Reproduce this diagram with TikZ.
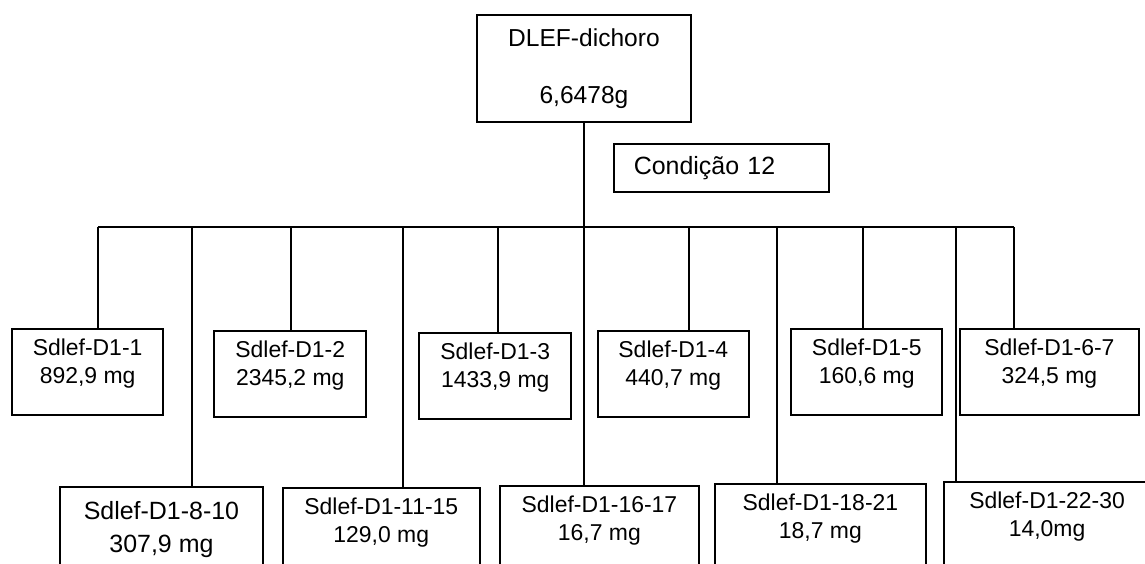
\documentclass[tikz,border=0pt]{standalone}
\usepackage{fontspec}
\setmainfont{Liberation Sans}
\usetikzlibrary{positioning}

\begin{document}
\begin{tikzpicture}[
    line width=0.9pt,
    root/.style={rectangle, draw, minimum width=3.74cm, minimum height=1.87cm, align=center, font=\fontsize{12.2}{14.6}\selectfont},
    cond/.style={rectangle, draw, minimum width=3.76cm, minimum height=0.84cm, inner xsep=0.35cm, text width=3.06cm, align=left, font=\fontsize{12.4}{14.8}\selectfont},
    leaf/.style={rectangle, draw, anchor=north, align=center, inner ysep=5pt, font=\fontsize{11.4}{13.9}\selectfont, execute at end node={\rule[-10.7pt]{0pt}{0pt}}},
    cut/.style={rectangle, draw, anchor=north, align=center, inner ysep=5pt, font=\fontsize{11.4}{13.9}\selectfont, execute at end node={\rule[-2cm]{0pt}{0pt}}}
]
\useasboundingbox (0,0) rectangle (20,-9.851);

% Starting material
\node[root] (root) at (10.20,-1.20) {DLEF-dichoro\\[13.7pt]6,6478g};

% Condition
\node[cond] (cond) at (12.60,-2.93) {Condição 12};

% First row of fractions
\node[leaf, minimum width=2.64cm] (d1) at (1.53,-5.73) {Sdlef-D1-1\\892,9 mg};
\node[leaf, minimum width=2.66cm] (d2) at (5.07,-5.76) {Sdlef-D1-2\\2345,2 mg};
\node[leaf, minimum width=2.66cm] (d3) at (8.65,-5.80) {Sdlef-D1-3\\1433,9 mg};
\node[leaf, minimum width=2.64cm] (d4) at (11.76,-5.76) {Sdlef-D1-4\\440,7 mg};
\node[leaf, minimum width=2.64cm] (d5) at (15.14,-5.73) {Sdlef-D1-5\\160,6 mg};
\node[leaf, minimum width=3.13cm] (d67) at (18.33,-5.73) {Sdlef-D1-6-7\\324,5 mg};

% Second row, running off the page
\node[cut, minimum width=3.55cm, inner ysep=7pt, font=\fontsize{12.4}{16.4}\selectfont] (d810) at (2.82,-8.49) {Sdlef-D1-8-10\\307,9 mg};
\node[cut, minimum width=3.44cm] (d1115) at (6.66,-8.51) {Sdlef-D1-11-15\\129,0 mg};
\node[cut, minimum width=3.48cm] (d1617) at (10.47,-8.47) {Sdlef-D1-16-17\\16,7 mg};
\node[cut, minimum width=3.69cm] (d1821) at (14.33,-8.44) {Sdlef-D1-18-21\\18,7 mg};
\node[cut, minimum width=3.60cm] (d2230) at (18.29,-8.40) {Sdlef-D1-22-30\\14,0mg};

% Bus points
\coordinate (k1) at (1.71,-3.965);
\coordinate (k2) at (5.08,-3.965);
\coordinate (k3) at (8.70,-3.965);
\coordinate (k4) at (12.04,-3.965);
\coordinate (k5) at (15.07,-3.965);
\coordinate (k6) at (17.71,-3.965);
\coordinate (k810) at (3.35,-3.965);
\coordinate (k1115) at (7.04,-3.965);
\coordinate (k1821) at (13.57,-3.965);
\coordinate (k2230) at (16.70,-3.965);

% Trunk and bus
\draw (root.south) -- (root.south |- d1617.north);
\draw (k1) -- (k6);

% Drops
\draw (k1) -- (k1 |- d1.north);
\draw (k2) -- (k2 |- d2.north);
\draw (k3) -- (k3 |- d3.north);
\draw (k4) -- (k4 |- d4.north);
\draw (k5) -- (k5 |- d5.north);
\draw (k6) -- (k6 |- d67.north);
\draw (k810) -- (k810 |- d810.north);
\draw (k1115) -- (k1115 |- d1115.north);
\draw (k1821) -- (k1821 |- d1821.north);
\draw (k2230) -- (k2230 |- d2230.north);

\end{tikzpicture}
\end{document}
